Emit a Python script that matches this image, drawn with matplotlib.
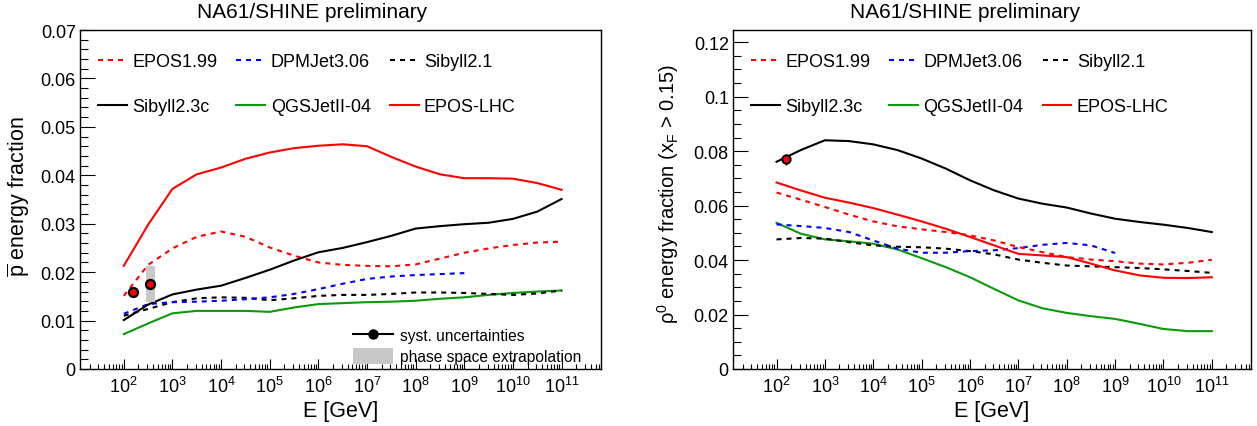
import numpy as np
import matplotlib
matplotlib.use("Agg")
import matplotlib.pyplot as plt
from matplotlib.lines import Line2D
from matplotlib.patches import Patch
from matplotlib.ticker import FixedLocator, LogLocator, MultipleLocator, FuncFormatter, NullFormatter

plt.rcParams['font.family'] = ['Liberation Sans', 'DejaVu Sans']
plt.rcParams['mathtext.fontset'] = 'custom'
plt.rcParams['mathtext.rm'] = 'Liberation Sans'
plt.rcParams['mathtext.it'] = 'Liberation Sans:italic'

# log10(E / GeV) grid the model curves were read at
log_e = [2.0, 2.5, 3.0, 3.5, 4.0, 4.5, 5.0, 5.5, 6.0, 6.5,
         7.0, 7.5, 8.0, 8.5, 9.0, 9.5, 10.0, 10.5, 11.0]
log_e_dpm = log_e[:15]  # DPMJet stops at 1e9 GeV

models = ['EPOS1.99', 'DPMJet3.06', 'Sibyll2.1', 'Sibyll2.3c', 'QGSJetII-04', 'EPOS-LHC']

# anti-proton energy fraction
pbar_epos199 = [0.0151, 0.0215, 0.0249, 0.0273, 0.0284, 0.0273, 0.0251, 0.0234, 0.0220, 0.0215,
                0.0213, 0.0212, 0.0216, 0.0228, 0.0240, 0.0249, 0.0256, 0.0261, 0.0263]
pbar_dpmjet = [0.0114, 0.0134, 0.0138, 0.0139, 0.0141, 0.0144, 0.0148, 0.0155, 0.0165, 0.0176,
               0.0186, 0.0191, 0.0194, 0.0196, 0.0198]
pbar_sib21 = [0.0110, 0.0124, 0.0138, 0.0146, 0.0148, 0.0147, 0.0142, 0.0146, 0.0151, 0.0153,
              0.0153, 0.0155, 0.0158, 0.0158, 0.0157, 0.0155, 0.0153, 0.0156, 0.0162]
pbar_sib23c = [0.0101, 0.0133, 0.0154, 0.0164, 0.0172, 0.0188, 0.0205, 0.0224, 0.0241, 0.0250,
               0.0262, 0.0275, 0.0290, 0.0295, 0.0299, 0.0302, 0.0310, 0.0325, 0.0351]
pbar_qgsjet = [0.0072, 0.0094, 0.0115, 0.0120, 0.0120, 0.0120, 0.0118, 0.0127, 0.0134, 0.0136,
               0.0138, 0.0139, 0.0141, 0.0145, 0.0148, 0.0153, 0.0157, 0.0160, 0.0162]
pbar_eposlhc = [0.0213, 0.0298, 0.0372, 0.0402, 0.0416, 0.0434, 0.0447, 0.0456, 0.0461, 0.0464,
                0.0460, 0.0438, 0.0418, 0.0402, 0.0394, 0.0394, 0.0393, 0.0384, 0.0370]

# rho0 energy fraction (xF > 0.15)
rho_epos199 = [0.0648, 0.0622, 0.0595, 0.0567, 0.0542, 0.0524, 0.0513, 0.0503, 0.0491, 0.0472,
               0.0448, 0.0429, 0.0411, 0.0402, 0.0396, 0.0387, 0.0384, 0.0390, 0.0401]
rho_dpmjet = [0.0531, 0.0525, 0.0518, 0.0503, 0.0472, 0.0442, 0.0427, 0.0427, 0.0433, 0.0436,
              0.0444, 0.0456, 0.0463, 0.0454, 0.0426]
rho_sib21 = [0.0476, 0.0481, 0.0479, 0.0466, 0.0454, 0.0449, 0.0447, 0.0442, 0.0433, 0.0421,
             0.0402, 0.0390, 0.0380, 0.0377, 0.0374, 0.0371, 0.0366, 0.0360, 0.0353]
rho_sib23c = [0.0761, 0.0804, 0.0840, 0.0837, 0.0825, 0.0804, 0.0773, 0.0736, 0.0693, 0.0656,
              0.0626, 0.0607, 0.0593, 0.0571, 0.0552, 0.0540, 0.0530, 0.0518, 0.0503]
rho_qgsjet = [0.0537, 0.0497, 0.0476, 0.0469, 0.0460, 0.0439, 0.0407, 0.0374, 0.0337, 0.0294,
              0.0252, 0.0223, 0.0206, 0.0194, 0.0184, 0.0166, 0.0147, 0.0139, 0.0139]
rho_eposlhc = [0.0685, 0.0656, 0.0629, 0.0611, 0.0591, 0.0567, 0.0542, 0.0515, 0.0485, 0.0454,
               0.0423, 0.0417, 0.0411, 0.0387, 0.0362, 0.0344, 0.0335, 0.0334, 0.0337]

# NA61/SHINE measurements
pbar_data_e = [158, 350]
pbar_data_y = [0.0160, 0.0176]
pbar_data_err = [0.0004, 0.0004]
pbar_extrap_lo = [0.0139]   # phase space extrapolation band at 350 GeV
pbar_extrap_hi = [0.0213]
pbar_extrap_e = [293, 433]

rho_data_e = [158]
rho_data_y = [0.0770]
rho_data_err = [0.0020]

decades = list(range(2, 12))
xtick_labels = ['$10^{%d}$' % d for d in decades]

RED = '#ff0000'
BLUE = '#0000ff'
GREEN = '#0a9a0a'
styles = {
    'EPOS1.99': dict(color=RED, ls=(0, (2.4, 2.4))),
    'DPMJet3.06': dict(color=BLUE, ls=(0, (2.4, 2.4))),
    'Sibyll2.1': dict(color='black', ls=(0, (2.4, 2.4))),
    'Sibyll2.3c': dict(color='black', ls='-'),
    'QGSJetII-04': dict(color=GREEN, ls='-'),
    'EPOS-LHC': dict(color=RED, ls='-'),
}

W, H = 1257, 427
fig = plt.figure(figsize=(W / 100, H / 100), dpi=100)
ax1 = fig.add_axes([80 / W, 57 / H, 521 / W, 339 / H])
ax2 = fig.add_axes([733 / W, 57 / H, 518 / W, 339 / H])

E = 10 ** np.array(log_e)
E_dpm = 10 ** np.array(log_e_dpm)


def draw_models(ax, series):
    for name in ['QGSJetII-04', 'Sibyll2.1', 'DPMJet3.06', 'EPOS1.99', 'Sibyll2.3c', 'EPOS-LHC']:
        x = E_dpm if name == 'DPMJet3.06' else E
        ax.plot(x, series[name], lw=1.5, **styles[name])


def style_axis(ax, ymax, ymajor, yminor):
    ax.set_xscale('log')
    ax.set_xlim(10 ** 1.1, 10 ** 11.81)
    ax.set_ylim(0, ymax)
    ax.xaxis.set_major_locator(FixedLocator([10.0 ** d for d in decades]))
    ax.set_xticklabels(xtick_labels)
    ax.xaxis.set_minor_locator(LogLocator(base=10, subs=range(2, 10), numticks=100))
    ax.xaxis.set_minor_formatter(NullFormatter())
    ax.yaxis.set_major_locator(MultipleLocator(ymajor))
    ax.yaxis.set_minor_locator(MultipleLocator(yminor))
    ax.yaxis.set_major_formatter(FuncFormatter(lambda v, p: '0' if abs(v) < 1e-9 else '%g' % v))
    ax.tick_params(axis='x', which='major', direction='in', length=7.5, width=0.8,
                   top=False, labelsize=13, pad=5)
    ax.tick_params(axis='x', which='minor', direction='in', length=3.8, width=0.8, top=False)
    ax.tick_params(axis='y', which='major', direction='in', length=11, width=0.8,
                   right=False, labelsize=13, pad=3)
    ax.tick_params(axis='y', which='minor', direction='in', length=5.5, width=0.8, right=False)
    for s in ax.spines.values():
        s.set_linewidth(1.0)
    ax.set_xlabel('E [GeV]', fontsize=15.5)
    ax.xaxis.label.set_va('center')
    ax.xaxis.set_label_coords(0.5, -42 / 339)


def model_legend(ax):
    order = ['EPOS1.99', 'Sibyll2.3c', 'DPMJet3.06', 'QGSJetII-04', 'Sibyll2.1', 'EPOS-LHC']
    handles = [Line2D([], [], lw=1.5, **styles[n]) for n in order]
    leg = ax.legend(handles, order, loc='upper left', bbox_to_anchor=(18 / 521, 1 - 23 / 339),
                    ncol=3, frameon=False, fontsize=13, handlelength=1.6, handletextpad=0.3,
                    columnspacing=1.05, labelspacing=1.55, borderpad=0, borderaxespad=0)
    return leg


# left panel: anti-protons
pbar = dict(zip(models, [pbar_epos199, pbar_dpmjet, pbar_sib21, pbar_sib23c, pbar_qgsjet, pbar_eposlhc]))
draw_models(ax1, pbar)
ax1.fill_between(pbar_extrap_e, pbar_extrap_lo * 2, pbar_extrap_hi * 2, color='#c8c8c8', lw=0, zorder=3)
ax1.errorbar(pbar_data_e, pbar_data_y, yerr=pbar_data_err, fmt='o', ms=6.5, mfc=RED, mec='black',
             mew=1.6, ecolor='black', elinewidth=1, capsize=0, zorder=5)
style_axis(ax1, 0.07, 0.01, 0.002)
ax1.set_ylabel(r'$\overline{\mathrm{p}}$ energy fraction', fontsize=15.5)
ax1.yaxis.label.set_va('center')
ax1.yaxis.set_label_coords(-61 / 521, 0.51)
leg1 = model_legend(ax1)
ax1.add_artist(leg1)
syst_handles = [Line2D([], [], color='black', lw=1.5, marker='o', ms=6.5),
                Patch(facecolor='#c8c8c8', edgecolor='none')]
ax1.legend(syst_handles, ['syst. uncertainties', 'phase space extrapolation'],
           loc='lower left', bbox_to_anchor=(273 / 521, 5 / 339), frameon=False, fontsize=11.2,
           handlelength=2.6, handletextpad=0.4, labelspacing=0.3, handleheight=1.2,
           borderpad=0, borderaxespad=0)

# right panel: rho0
rho = dict(zip(models, [rho_epos199, rho_dpmjet, rho_sib21, rho_sib23c, rho_qgsjet, rho_eposlhc]))
draw_models(ax2, rho)
ax2.errorbar(rho_data_e, rho_data_y, yerr=rho_data_err, fmt='o', ms=6, mfc=RED, mec='black',
             mew=1.4, ecolor='black', elinewidth=1, capsize=0, zorder=5)
style_axis(ax2, 0.1245, 0.02, 0.005)
ax2.set_ylabel(r'$\mathrm{\rho}^{0}$ energy fraction (x$_{\mathrm{F}}$ > 0.15)', fontsize=14.5)
ax2.yaxis.label.set_va('center')
ax2.yaxis.set_label_coords(-65 / 518, 0.52)
model_legend(ax2)

fig.text(312.5 / W, 1 - 12 / H, 'NA61/SHINE preliminary', ha='center', va='center', fontsize=15)
fig.text(965 / W, 1 - 12 / H, 'NA61/SHINE preliminary', ha='center', va='center', fontsize=15)

fig.savefig('out.png', dpi=100)
